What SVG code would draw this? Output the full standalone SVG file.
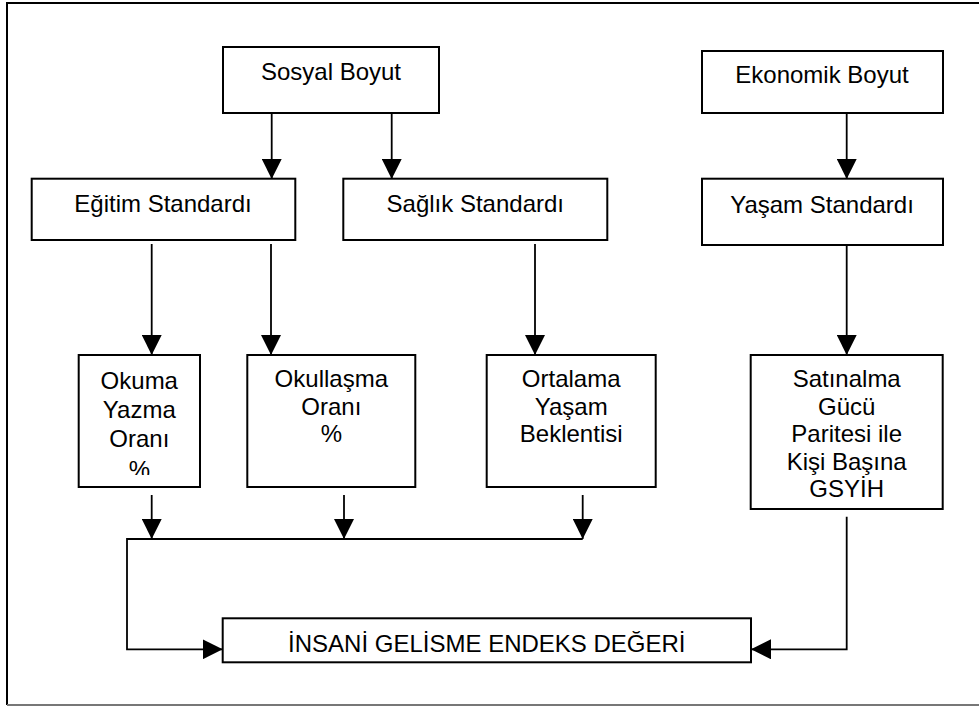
<svg xmlns="http://www.w3.org/2000/svg" width="979" height="706" viewBox="0 0 979 706">
<defs>
<style>
.box{fill:#fff;stroke:#000;stroke-width:2}
.t{font-family:"Liberation Sans",Arial,sans-serif;font-size:24px;fill:#000;text-anchor:middle}
.c{fill:none;stroke:#000;stroke-width:1.8}
</style>
<marker id="ah" markerUnits="userSpaceOnUse" markerWidth="20" markerHeight="20" refX="20" refY="10" orient="auto" viewBox="0 0 20 20">
<path d="M0,0 L20,10 L0,20 Z" fill="#000"/>
</marker>
<clipPath id="okclip"><rect x="79" y="355" width="121" height="120"/></clipPath>
</defs>
<rect width="979" height="706" fill="#fff"/>
<g id="frame">
<path d="M7,705 L7,3 L979,3" fill="none" stroke="#000" stroke-width="2"/>
<path d="M7,705 L979,705" fill="none" stroke="#777" stroke-width="2"/>
</g>
<g id="connectors">
<path class="c" d="M271.7,113 L271.7,179" marker-end="url(#ah)"/>
<path class="c" d="M391.7,113 L391.7,179" marker-end="url(#ah)"/>
<path class="c" d="M846.7,113 L846.7,179" marker-end="url(#ah)"/>
<path class="c" d="M151.7,244 L151.7,355" marker-end="url(#ah)"/>
<path class="c" d="M271,244 L271,355" marker-end="url(#ah)"/>
<path class="c" d="M535,244 L535,355" marker-end="url(#ah)"/>
<path class="c" d="M846.7,245 L846.7,355" marker-end="url(#ah)"/>
<path class="c" d="M151.7,495 L151.7,539" marker-end="url(#ah)"/>
<path class="c" d="M344,495 L344,539" marker-end="url(#ah)"/>
<path class="c" d="M582.7,495 L582.7,539" marker-end="url(#ah)"/>
<path class="c" d="M582.7,539 L127,539 L127,649.3 L222.7,649.3" marker-end="url(#ah)"/>
<path class="c" d="M846.7,516.7 L846.7,649.3 L751,649.3" marker-end="url(#ah)"/>
</g>
<g id="sosyal">
<rect class="box" x="223" y="47" width="216" height="66"/>
<text class="t" x="331" y="80">Sosyal Boyut</text>
</g>
<g id="ekonomik">
<rect class="box" x="702" y="51" width="241" height="62"/>
<text class="t" x="822" y="82.7">Ekonomik Boyut</text>
</g>
<g id="egitim">
<rect class="box" x="31.7" y="178.7" width="263.6" height="61.3"/>
<text class="t" x="163" y="211.7">Eğitim Standardı</text>
</g>
<g id="saglik">
<rect class="box" x="343.3" y="178.7" width="264" height="61.3"/>
<text class="t" x="475.3" y="211.7">Sağlık Standardı</text>
</g>
<g id="yasam">
<rect class="box" x="702" y="178.7" width="241" height="66.3"/>
<text class="t" x="822" y="213.3">Yaşam Standardı</text>
</g>
<g id="okuma">
<rect class="box" x="78.7" y="355" width="121.3" height="132"/>
<g clip-path="url(#okclip)">
<text class="t" x="139.3" y="389">Okuma</text>
<text class="t" x="139.3" y="418">Yazma</text>
<text class="t" x="139.3" y="447">Oranı</text>
<text class="t" x="139.3" y="477.5">%</text>
</g>
</g>
<g id="okullasma">
<rect class="box" x="247.3" y="355" width="168" height="132"/>
<text class="t" x="331.3" y="387">Okullaşma</text>
<text class="t" x="331.3" y="414.5">Oranı</text>
<text class="t" x="331.3" y="442">%</text>
</g>
<g id="ortalama">
<rect class="box" x="486.7" y="355" width="169" height="132"/>
<text class="t" x="571.2" y="387">Ortalama</text>
<text class="t" x="571.2" y="414.5">Yaşam</text>
<text class="t" x="571.2" y="442">Beklentisi</text>
</g>
<g id="satinalma">
<rect class="box" x="750.7" y="355" width="192" height="154"/>
<text class="t" x="846.7" y="387">Satınalma</text>
<text class="t" x="846.7" y="414.5">Gücü</text>
<text class="t" x="846.7" y="442">Paritesi ile</text>
<text class="t" x="846.7" y="469.5">Kişi Başına</text>
<text class="t" x="846.7" y="497">GSYİH</text>
</g>
<g id="hdi">
<rect class="box" x="222.7" y="618.3" width="528.3" height="44"/>
<text class="t" x="486.8" y="651.7">İNSANİ GELİSME ENDEKS DEĞERİ</text>
</g>
</svg>
